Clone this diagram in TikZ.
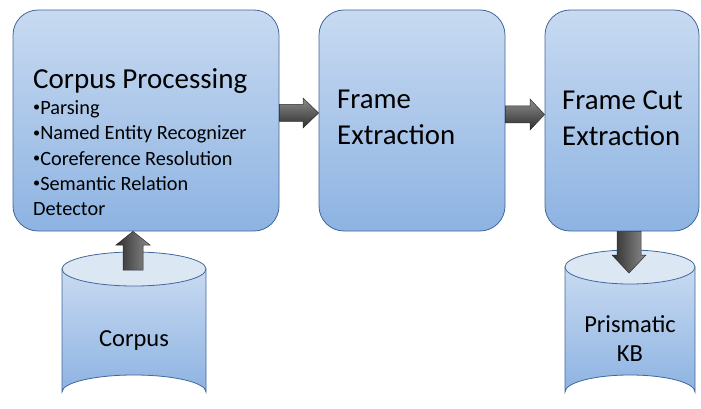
\documentclass[tikz,border=0pt]{standalone}
\usepackage{fontspec}
\setmainfont{Carlito}
\usetikzlibrary{calc}

\definecolor{boxtop}{HTML}{C8DAF1}
\definecolor{boxbot}{HTML}{8DB3E2}
\definecolor{boxedge}{HTML}{41689A}
\definecolor{captop}{HTML}{DCE7F4}
\definecolor{arrlight}{HTML}{8C8C8C}
\definecolor{arrdark}{HTML}{2E2E2E}

% small list bullet
\newcommand\smallbul{\raisebox{0.12em}{\scalebox{0.7}{•}}}

\tikzset{
  stage/.style={draw=boxedge, line width=0.8pt, rounded corners=25pt,
    top color=boxtop, bottom color=boxbot, inner sep=0pt},
  bigtext/.style={anchor=base west, inner sep=0pt, font=\fontsize{28.8}{34}\selectfont},
  bullettext/.style={anchor=base west, inner sep=0pt, font=\fontsize{20.3}{23}\selectfont},
  drumtext/.style={anchor=base, inner sep=0pt, font=\fontsize{24.5}{29}\selectfont},
  blockarrow/.style={draw=arrdark, line width=0.5pt, line join=miter},
  harrow/.style={blockarrow, top color=arrlight, bottom color=arrdark},
  varrow/.style={blockarrow, left color=arrdark, right color=arrlight},
  drumbody/.style={draw=boxedge, line width=0.8pt, top color=boxtop, bottom color=boxbot},
  drumcap/.style={draw=boxedge, line width=0.8pt, fill=captop}
}

\begin{document}
\begin{tikzpicture}[x=1pt,y=-1pt]
\useasboundingbox (0,0) rectangle (701,409);

% three processing stages
\node[stage, minimum width=266pt, minimum height=221pt] (cp) at (146,120.5) {};
\node[stage, minimum width=186pt, minimum height=221pt] (fe) at (412,120.5) {};
\node[stage, minimum width=154pt, minimum height=221pt] (fc) at (622,120.5) {};

% stage texts
\node[bigtext, font=\fontsize{29}{34}\selectfont] (cptitle) at (33,89) {Corpus Processing};
\node[bullettext] (b1) at (33,114) {\smallbul Parsing};
\node[bullettext] (b2) at (33,139.5) {\smallbul Named Entity Recognizer};
\node[bullettext] (b3) at (33,165) {\smallbul Coreference Resolution};
\node[bullettext] (b4) at (33,190) {\smallbul Semantic Relation};
\node[bullettext] (b5) at (33,215) {Detector};

\node[bigtext] (fe1) at (337,109) {Frame};
\node[bigtext] (fe2) at (337,144) {Extraction};
\node[bigtext] (fc1) at (562,110) {Frame Cut};
\node[bigtext] (fc2) at (562,146) {Extraction};

% corpus drum
\coordinate (c1top) at (134,269);
\path[drumbody] (62,269) -- (62,392) arc[start angle=180, end angle=360, x radius=72, y radius=17]
  -- (206,269) -- cycle;
\path[drumcap] (c1top) ellipse[x radius=72, y radius=17];
\node[drumtext] (corpus) at (134,346) {Corpus};

% knowledge base drum
\coordinate (c2top) at (630,267);
\path[drumbody] (565,267) -- (565,392) arc[start angle=180, end angle=360, x radius=65, y radius=17]
  -- (695,267) -- cycle;
\path[drumcap] (c2top) ellipse[x radius=65, y radius=17];
\node[drumtext] (kb1) at (630,332) {Prismatic};
\node[drumtext] (kb2) at (630,361) {KB};

% block arrows between stages
\path[harrow] (cp.east |- 0,104.5) -- (303,104.5) -- (303,98) -- (fe.west |- 0,113)
  -- (303,128) -- (303,121.5) -- (cp.east |- 0,121.5) -- cycle;
\path[harrow] (fe.east |- 0,106) -- (530,106) -- (530,99) -- (fc.west |- 0,114.5)
  -- (530,130) -- (530,123) -- (fe.east |- 0,123) -- cycle;

% corpus feeds processing
\path[varrow] (123,270) -- (123,245) -- (116,245) -- (cp.south -| 133,0)
  -- (150,245) -- (143,245) -- (143,270) -- cycle;

% frame cuts stored in the knowledge base
\path[varrow] (fc.south -| 617,0) -- (617,255) -- (612,255) -- (629,273)
  -- (646,255) -- (641,255) -- (fc.south -| 641,0) -- cycle;
\end{tikzpicture}
\end{document}
